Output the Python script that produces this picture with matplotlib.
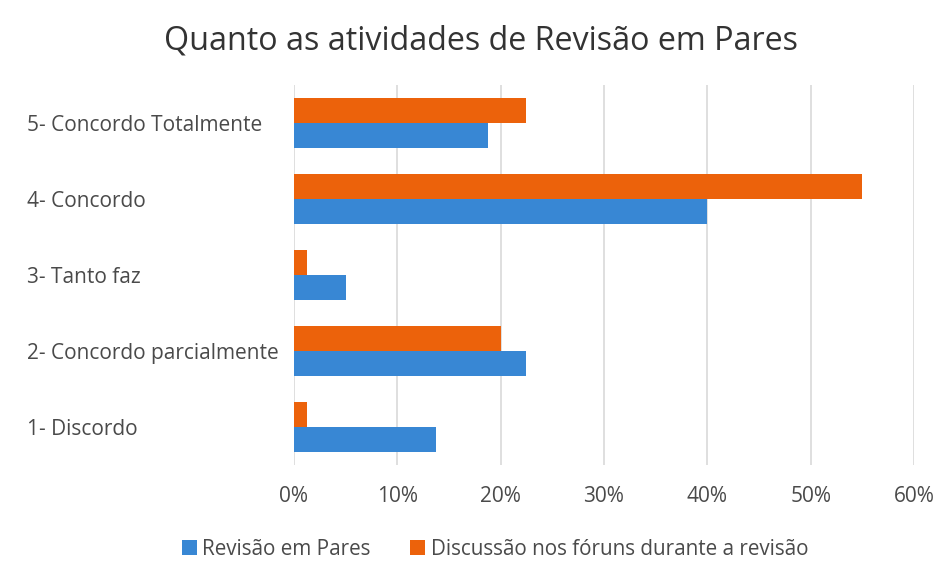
import matplotlib
matplotlib.use("Agg")
import matplotlib.pyplot as plt
import numpy as np
from matplotlib.ticker import PercentFormatter, MultipleLocator

categories = ["1- Discordo", "2- Concordo parcialmente", "3- Tanto faz",
              "4- Concordo", "5- Concordo Totalmente"]
revisao = [13.75, 22.5, 5.0, 40.0, 18.75]
discussao = [1.25, 20.0, 1.25, 55.0, 22.5]
series_names = ["Revisão em Pares", "Discussão nos fóruns durante a revisão"]
title = "Quanto as atividades de Revisão em Pares"

blue = "#3887D4"
orange = "#EC620B"
grey_text = "#4A4A4A"

plt.rcParams['font.family'] = ['Open Sans', 'DejaVu Sans']

fig = plt.figure(figsize=(9.48, 5.61), dpi=100)
ax = fig.add_axes([0.3101, 0.1711, 0.6540, 0.6774])

y = np.arange(len(categories))
h = 0.33
ax.barh(y - h / 2, revisao, height=h, color=blue, label=series_names[0], zorder=3)
ax.barh(y + h / 2, discussao, height=h, color=orange, label=series_names[1], zorder=3)

ax.set_xlim(0, 60)
ax.set_ylim(-0.5, len(categories) - 0.5)
ax.xaxis.set_major_locator(MultipleLocator(10))
ax.xaxis.set_major_formatter(PercentFormatter(decimals=0))
ax.set_yticks(y)
ax.set_yticklabels(categories, ha='left')
ax.grid(axis='x', color='#D9D9D9', linewidth=1.2, zorder=0)
for s in ax.spines.values():
    s.set_visible(False)
ax.tick_params(axis='both', length=0, labelsize=15.0, colors=grey_text)
ax.tick_params(axis='y', pad=192)
ax.tick_params(axis='x', pad=15)

fig.text(0.507, 0.927, title, ha='center', va='center', fontsize=23.2, color='#333333')

handles, labels = ax.get_legend_handles_labels()
fig.legend(handles, labels, loc='center', bbox_to_anchor=(0.522, 0.021), ncol=2,
           frameon=False, fontsize=14.9, labelcolor=grey_text,
           handlelength=0.75, handleheight=0.8, handletextpad=0.25, columnspacing=1.9)

fig.savefig("out.png", dpi=100)
